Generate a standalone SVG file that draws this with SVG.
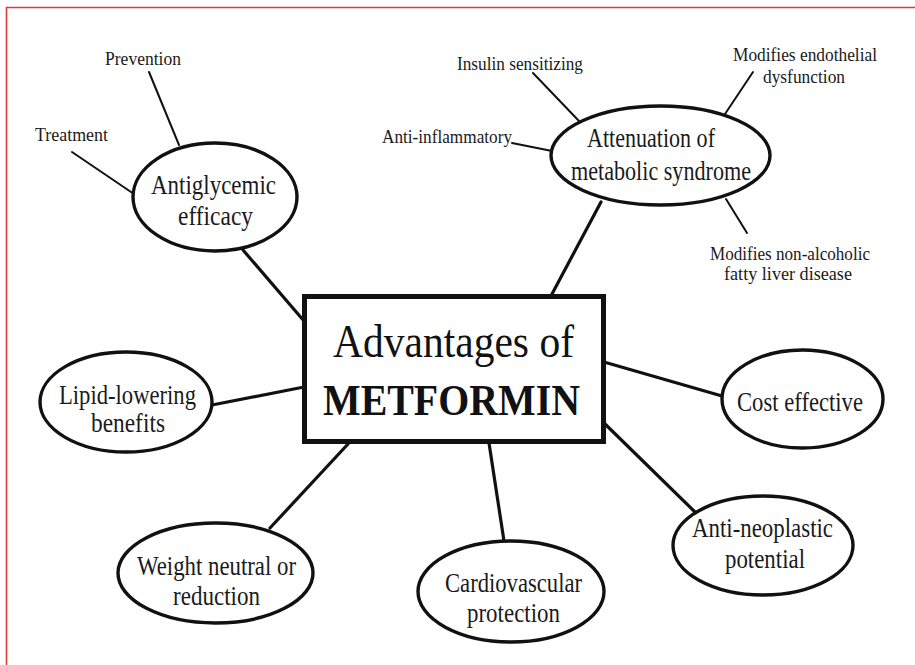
<svg xmlns="http://www.w3.org/2000/svg" width="915" height="665" viewBox="0 0 915 665">
<style>
.bg{fill:#ffffff}
.frame{stroke:#dd3a3a;stroke-width:1.6;fill:none}
.ell{fill:#ffffff;stroke:#111;stroke-width:3.4}
.box{fill:#ffffff;stroke:#111;stroke-width:5}
.con{stroke:#111;stroke-width:3.2;fill:none;stroke-linecap:round}
.leaf{stroke:#111;stroke-width:2;fill:none;stroke-linecap:round}
.t{font-family:"Liberation Serif","Times New Roman",serif;fill:#1a1a1a;font-size:27.5px}
.s{font-family:"Liberation Serif","Times New Roman",serif;fill:#1a1a1a;font-size:19px}
.big{font-family:"Liberation Serif","Times New Roman",serif;fill:#111;font-size:46px}
.bold{font-family:"Liberation Serif","Times New Roman",serif;fill:#111;font-size:44px;font-weight:bold}
</style>
<rect class="bg" x="0" y="0" width="915" height="665"/>
<path class="frame" d="M6.5,665 V7.5 H915"/>
<g id="connectors">
<line class="con" x1="243" y1="250" x2="304" y2="321"/>
<line class="con" x1="601" y1="202" x2="552" y2="294"/>
<line class="con" x1="212" y1="405" x2="304" y2="387"/>
<line class="con" x1="604" y1="362" x2="722" y2="396"/>
<line class="con" x1="270" y1="528" x2="348" y2="444"/>
<line class="con" x1="489" y1="443" x2="504" y2="541"/>
<line class="con" x1="604" y1="423" x2="695" y2="512"/>
<line class="leaf" x1="149" y1="72" x2="179" y2="145"/>
<line class="leaf" x1="72" y1="152" x2="134" y2="194"/>
<line class="leaf" x1="533" y1="73" x2="579" y2="121"/>
<line class="leaf" x1="753" y1="72" x2="725" y2="114"/>
<line class="leaf" x1="512" y1="143" x2="552" y2="151"/>
<line class="leaf" x1="726" y1="199" x2="747" y2="233"/>
</g>
<g id="center">
<rect class="box" x="304.5" y="296.5" width="299" height="145"/>
<text class="big" x="333" y="357" textLength="241" lengthAdjust="spacingAndGlyphs">Advantages of</text>
<text class="bold" x="323" y="415" textLength="257" lengthAdjust="spacingAndGlyphs">METFORMIN</text>
</g>
<g id="antiglycemic">
<ellipse class="ell" cx="215" cy="197" rx="82" ry="54"/>
<text class="t" x="151" y="194" textLength="125" lengthAdjust="spacingAndGlyphs">Antiglycemic</text>
<text class="t" x="178" y="225" textLength="75" lengthAdjust="spacingAndGlyphs">efficacy</text>
</g>
<g id="prevention"><text class="s" x="105" y="65" textLength="76" lengthAdjust="spacingAndGlyphs">Prevention</text></g>
<g id="treatment"><text class="s" x="35" y="141" textLength="73" lengthAdjust="spacingAndGlyphs">Treatment</text></g>
<g id="attenuation">
<ellipse class="ell" cx="660.5" cy="155.5" rx="109.5" ry="49.5"/>
<text class="t" x="587" y="147" textLength="128" lengthAdjust="spacingAndGlyphs">Attenuation of</text>
<text class="t" x="571" y="180" textLength="180" lengthAdjust="spacingAndGlyphs">metabolic syndrome</text>
</g>
<g id="insulin"><text class="s" x="457" y="70" textLength="126" lengthAdjust="spacingAndGlyphs">Insulin sensitizing</text></g>
<g id="endothelial">
<text class="s" x="733" y="61" textLength="144" lengthAdjust="spacingAndGlyphs">Modifies endothelial</text>
<text class="s" x="763" y="83" textLength="82" lengthAdjust="spacingAndGlyphs">dysfunction</text>
</g>
<g id="antiinflammatory"><text class="s" x="382" y="143" textLength="130" lengthAdjust="spacingAndGlyphs">Anti-inflammatory</text></g>
<g id="nafld">
<text class="s" x="710" y="260" textLength="160" lengthAdjust="spacingAndGlyphs">Modifies non-alcoholic</text>
<text class="s" x="724" y="280" textLength="128" lengthAdjust="spacingAndGlyphs">fatty liver disease</text>
</g>
<g id="lipid">
<ellipse class="ell" cx="126" cy="402" rx="86" ry="50"/>
<text class="t" x="59" y="404" textLength="137" lengthAdjust="spacingAndGlyphs">Lipid-lowering</text>
<text class="t" x="91" y="432" textLength="74" lengthAdjust="spacingAndGlyphs">benefits</text>
</g>
<g id="cost">
<ellipse class="ell" cx="802.5" cy="399" rx="80.5" ry="49"/>
<text class="t" x="737" y="411" textLength="126" lengthAdjust="spacingAndGlyphs">Cost effective</text>
</g>
<g id="weight">
<ellipse class="ell" cx="215.5" cy="573" rx="97.5" ry="50"/>
<text class="t" x="137" y="575" textLength="159" lengthAdjust="spacingAndGlyphs">Weight neutral or</text>
<text class="t" x="173" y="605" textLength="87" lengthAdjust="spacingAndGlyphs">reduction</text>
</g>
<g id="cardio">
<ellipse class="ell" cx="511" cy="591.5" rx="93" ry="50.5"/>
<text class="t" x="445" y="592" textLength="137" lengthAdjust="spacingAndGlyphs">Cardiovascular</text>
<text class="t" x="467" y="622" textLength="93" lengthAdjust="spacingAndGlyphs">protection</text>
</g>
<g id="neoplastic">
<ellipse class="ell" cx="763" cy="545.5" rx="90" ry="49.5"/>
<text class="t" x="692" y="537" textLength="141" lengthAdjust="spacingAndGlyphs">Anti-neoplastic</text>
<text class="t" x="725" y="568" textLength="80" lengthAdjust="spacingAndGlyphs">potential</text>
</g>
</svg>
